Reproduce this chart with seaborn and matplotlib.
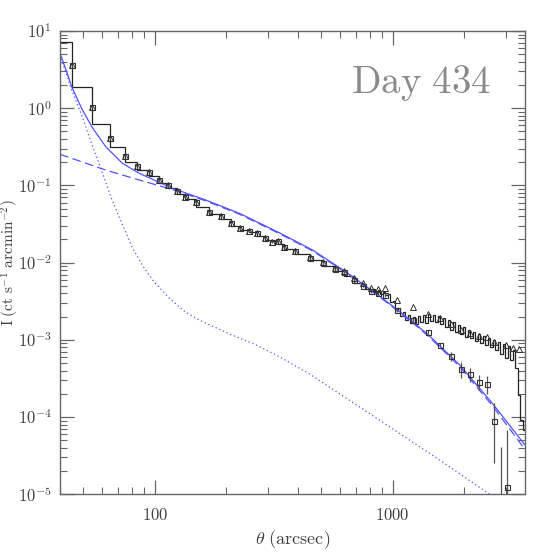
import numpy as np
import seaborn as sns
import matplotlib
matplotlib.use('Agg')
import matplotlib.pyplot as plt
from matplotlib.ticker import FixedLocator, LogLocator, NullFormatter

# surface brightness profile, background-subtracted (squares)
sq_r = [44.9, 54.7, 64.6, 75.0, 84.4, 94.6, 104.4, 114.3, 124.5, 134.4, 148.5, 169.6,
        190, 209, 229, 250, 268, 290, 310, 330, 350, 389, 448, 509, 570, 624, 687, 750,
        813, 867, 925, 1042, 1214, 1408, 1589, 1767, 1946, 2124, 2309, 2494, 2662, 2851, 3028]
sq_i = [3.63, 1.05, 0.415, 0.243, 0.178, 0.148, 0.1175, 0.101, 0.0853, 0.0714, 0.0604, 0.0456,
        0.0405, 0.0329, 0.0278, 0.0257, 0.0240, 0.0207, 0.0187, 0.0192, 0.0158, 0.0143, 0.0116,
        0.0098, 0.00826, 0.00748, 0.00595, 0.00502, 0.00429, 0.0040, 0.0038, 0.00243, 0.00181,
        0.00127, 8.57e-4, 6.17e-4, 4.15e-4, 3.6e-4, 2.86e-4, 2.67e-4, 8.87e-5, -1.4e-5, 1.23e-5]
sq_err = [0.15, 0.04, 0.015, 0.009, 0.006, 0.005, 0.004, 0.0035, 0.003, 0.0025, 0.002, 0.0015,
          0.0013, 0.0011, 0.001, 0.0009, 0.0008, 0.0008, 0.0007, 0.0007, 0.0006, 0.0005, 0.0004,
          0.0004, 0.0003, 0.0003, 0.00025, 0.0002, 0.0002, 0.0002, 0.0002, 0.00015, 0.0001,
          8e-5, 6e-5, 8e-5, 9.7e-5, 7.5e-5, 6.4e-5, 7e-5, 6.3e-5, 5.5e-5, 5.6e-5]

# raw profile incl. background (triangles)
tri_r = [44.9, 54.7, 64.6, 75.0, 84.4, 94.6, 104.4, 114.3, 124.5, 134.4, 148.5, 169.6,
         190, 209, 229, 250, 268, 290, 310, 330, 350, 389, 448, 509, 570, 624, 687, 750,
         813, 867, 925, 1042, 1222, 1408, 1589, 1767, 1946, 2108, 2296, 2489, 2668, 2986, 3211, 3406]
tri_i = [3.63, 1.05, 0.415, 0.243, 0.178, 0.148, 0.1175, 0.101, 0.0853, 0.0714, 0.0604, 0.0456,
         0.0405, 0.0329, 0.0278, 0.0257, 0.0240, 0.0207, 0.0187, 0.0192, 0.0158, 0.0143, 0.0118,
         0.0101, 0.0086, 0.0079, 0.0064, 0.0054, 0.0047, 0.0045, 0.00465, 0.00331, 0.00264,
         0.00214, 0.0019, 0.0016, 0.00135, 0.00121, 0.00112, 0.00108, 9.4e-4, 8.57e-4, 7.76e-4, 7.67e-4]

# histogram of the raw profile: coarse bins then fine bins
hist_edges = [40, 44.9, 54.7, 64.6, 75.0, 84.4, 94.6, 104.4, 114.3, 124.5, 134.4, 148.5, 169.6,
              190, 209, 229, 250, 268, 290, 310, 330, 350, 389, 448, 509, 570, 624, 687, 750]
hist_vals = [7.27, 1.87, 0.62, 0.317, 0.199, 0.160, 0.132, 0.109, 0.093, 0.078, 0.066, 0.052,
             0.043, 0.0365, 0.030, 0.0268, 0.0248, 0.0222, 0.0197, 0.019, 0.0174, 0.015, 0.0129,
             0.0107, 0.0090, 0.0079, 0.0067, 0.0055]
fine_vals = [4.98e-3, 4.55e-3, 4.69e-3, 4.29e-3, 4.55e-3, 4.04e-3, 4.42e-3, 3.92e-3, 4.16e-3, 3.80e-3,
             3.92e-3, 3.09e-3, 3.18e-3, 2.43e-3, 2.58e-3, 2.03e-3, 2.29e-3, 1.80e-3, 2.09e-3, 1.65e-3,
             1.97e-3, 1.60e-3, 2.03e-3, 1.70e-3, 2.09e-3, 1.65e-3, 2.16e-3, 1.75e-3, 2.09e-3, 1.70e-3,
             2.03e-3, 1.60e-3, 1.91e-3, 1.47e-3, 1.80e-3, 1.34e-3, 1.70e-3, 1.26e-3, 1.56e-3, 1.19e-3,
             1.47e-3, 1.09e-3, 1.34e-3, 1.05e-3, 1.26e-3, 9.64e-4, 1.19e-3, 9.10e-4, 1.12e-3, 8.57e-4,
             1.05e-3, 8.07e-4, 9.93e-4, 7.38e-4, 9.37e-4, 6.55e-4, 8.83e-4, 5.81e-4, 8.32e-4, 5.47e-4,
             7.38e-4, 4.32e-4, 1.93e-4, 9.1e-5, 6.8e-5]
fine_edges = np.geomspace(750, 3600, len(fine_vals) + 1)

# model curves: total, beta model (dashed), PSF (dotted)
total_r = [40, 42.3, 44.8, 47.2, 49.7, 54.7, 62.3, 73.2, 86.1, 100, 118.9, 140, 164, 227, 334,
           461, 638, 881, 1000, 1216, 1431, 1915, 2643, 3600]
total_i = [5.14, 3.2, 1.90, 1.33, 0.95, 0.56, 0.317, 0.193, 0.1436, 0.1167, 0.0917, 0.0769,
           0.0647, 0.0435, 0.0244, 0.01456, 0.00755, 0.00369, 0.00274, 0.0017, 0.00112, 4.72e-4,
           1.47e-4, 4.34e-5]
beta_r = [40, 62.3, 86.1, 118.9, 164, 227, 334, 461, 638, 881, 1000, 1216, 1431, 1915, 2643, 3600]
beta_i = [0.253, 0.158, 0.1175, 0.0885, 0.0630, 0.0425, 0.0238, 0.0142, 0.00738, 0.0036,
          0.00267, 0.00166, 0.00108, 4.5e-4, 1.37e-4, 3.8e-5]
psf_r = [40, 44.95, 49.5, 54.6, 60.1, 66.2, 73.0, 80.4, 88.6, 99.5, 115.1, 133, 154, 212, 262,
         325, 448, 727, 1578, 2559, 3110]
psf_i = [4.89, 1.67, 0.792, 0.334, 0.149, 0.0647, 0.0316, 0.0159, 0.0093, 0.00561, 0.00348,
         0.00236, 0.0018, 0.00115, 8.83e-4, 6.35e-4, 3.61e-4, 1.35e-4, 2.77e-5, 1.0e-5, 6.8e-6]

x_ticks = [100, 1000]
x_labels = ['$100$', '$1000$']
y_ticks = [1e-5, 1e-4, 1e-3, 1e-2, 1e-1, 1e0, 1e1]
y_labels = ['$10^{-5}$', '$10^{-4}$', '$10^{-3}$', '$10^{-2}$', '$10^{-1}$', '$10^{0}$', '$10^{1}$']

sns.set_style('ticks')
plt.rcParams['font.family'] = ['DejaVu Serif']
plt.rcParams['mathtext.fontset'] = 'cm'

fig = plt.figure(figsize=(5.54, 5.54), dpi=100)
ax = fig.add_axes([60 / 554, 59.7 / 554, 465 / 554, 463.3 / 554])
ax.set_xscale('log')
ax.set_yscale('log')
ax.set_xlim(40, 3600)
ax.set_ylim(1e-5, 10)

blue = '#5252ff'
sns.lineplot(x=psf_r, y=psf_i, ax=ax, color=blue, lw=0.9, linestyle=(0, (1, 2.2)),
             estimator=None, sort=False)
sns.lineplot(x=beta_r, y=beta_i, ax=ax, color=blue, lw=0.9, linestyle=(0, (7, 3.5)),
             estimator=None, sort=False)
sns.lineplot(x=total_r, y=total_i, ax=ax, color=blue, lw=0.9, estimator=None, sort=False)

ax.stairs(hist_vals + fine_vals, hist_edges + list(fine_edges[1:]), color='#222222', lw=0.9,
          baseline=None)

ax.errorbar(sq_r, sq_i, yerr=sq_err, fmt='s', ms=3.6, mfc='none', mec='#333333', mew=0.8,
            ecolor='#555555', elinewidth=0.9, capsize=0)
sns.lineplot(x=tri_r, y=tri_i, ax=ax, marker='^', linestyle='none', ms=4.5, mfc='none',
             mec='#333333', mew=0.7, estimator=None, sort=False)

ax.text(0.776, 0.867, r'$\mathrm{Day\ 434}$', transform=ax.transAxes, ha='center',
        va='baseline', fontsize=28, color='#8a8a8a')

ax.xaxis.set_major_locator(FixedLocator(x_ticks))
ax.set_xticklabels(x_labels)
ax.xaxis.set_minor_locator(LogLocator(base=10, subs=np.arange(2, 10)))
ax.xaxis.set_minor_formatter(NullFormatter())
ax.yaxis.set_major_locator(FixedLocator(y_ticks))
ax.set_yticklabels(y_labels)
ax.yaxis.set_minor_locator(LogLocator(base=10, subs=np.arange(2, 10), numticks=20))
ax.yaxis.set_minor_formatter(NullFormatter())

ax.tick_params(which='both', direction='in', top=True, right=True, colors='#666666',
               labelcolor='#404040', labelsize=12)
ax.tick_params(which='major', length=10, width=0.9)
ax.tick_params(which='minor', length=5, width=0.8)
ax.tick_params(axis='y', pad=6)
ax.tick_params(axis='x', pad=9)
for s in ax.spines.values():
    s.set_color('#666666')
    s.set_linewidth(1.0)

ax.set_xlabel(r'$\theta\ \mathrm{(arcsec)}$', fontsize=13, color='#404040', labelpad=3)
ax.set_ylabel(r'$\mathrm{I\ (ct\ s^{-1}\ arcmin^{-2})}$', fontsize=11, color='#404040',
              va='center')
ax.yaxis.set_label_coords(-0.1075, 0.5)

fig.savefig('out.png', dpi=100)
